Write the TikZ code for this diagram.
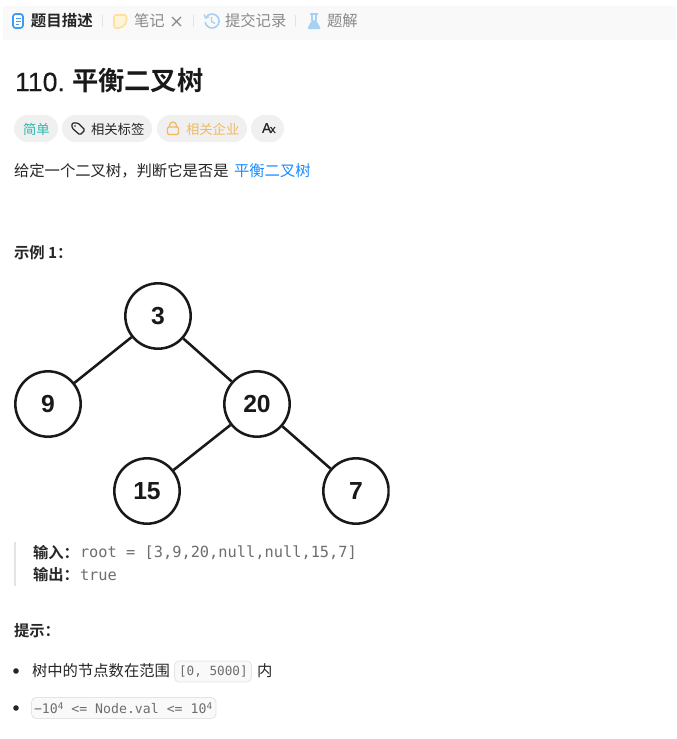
\documentclass[tikz,border=0pt]{standalone}
\usepackage{fontspec}
\setmainfont{Liberation Sans}
\setmonofont{DejaVu Sans Mono}
\newfontfamily\cjk{Noto Sans CJK SC}
\newfontfamily\cjkb{Noto Sans CJK SC Bold}
\newfontfamily\numfont[FakeBold=0.25]{Liberation Sans}
\definecolor{tabbg}{HTML}{F9F9F9}
\definecolor{pillbg}{HTML}{F0F0F0}
\definecolor{ink}{HTML}{262626}
\definecolor{grey}{HTML}{8A8A8A}
\definecolor{linkblue}{HTML}{1A8CFF}
\definecolor{teal}{HTML}{2DB8AD}
\definecolor{amber}{HTML}{F0B860}
\definecolor{iconblue}{HTML}{3E9BF5}
\definecolor{lightblue}{HTML}{A8D0F5}
\definecolor{noteyellow}{HTML}{FFDF9A}
\definecolor{notefill}{HTML}{FFF4D8}
\definecolor{sep}{HTML}{E4E4E4}
\definecolor{codegrey}{HTML}{6E6E6E}
\tikzset{x=0.75pt,y=-0.75pt,
 txt/.style={anchor=west,inner sep=0pt,outer sep=0pt,text=ink,font=\cjk\fontsize{11.5pt}{13pt}\selectfont},
 tab/.style={txt,text=grey,font=\cjk\fontsize{11.5pt}{13pt}\selectfont},
 tabon/.style={txt,font=\cjkb\fontsize{11.6pt}{13pt}\selectfont},
 pill/.style={fill=pillbg,rounded corners=10pt},
 pilltxt/.style={txt,font=\cjk\fontsize{10pt}{12pt}\selectfont},
 heading/.style={txt,font=\cjkb\fontsize{11.5pt}{13pt}\selectfont},
 code/.style={txt,text=codegrey,font=\ttfamily\fontsize{11.5pt}{13pt}\selectfont},
 chip/.style={draw=sep,fill=tabbg,rounded corners=3.5pt,line width=0.6pt},
 chiptxt/.style={txt,text=codegrey,font=\ttfamily\fontsize{9.5pt}{12pt}\selectfont},
 treenode/.style={circle,draw=black!90,line width=1.9pt,fill=white,minimum size=49pt,inner sep=0pt,font=\fontsize{18.5pt}{20pt}\selectfont\bfseries,text=black!90},
 edge/.style={line width=1.9pt,draw=black!90},
 sepline/.style={draw=sep,line width=0.7pt},
 dot/.style={circle,fill=ink,minimum size=4.2pt,inner sep=0pt}
}
\newcommand{\supfour}{\raisebox{3pt}{\fontsize{7pt}{8pt}\selectfont 4}}
\begin{document}
\begin{tikzpicture}
\useasboundingbox (0,0) rectangle (676,739);
\fill[white] (0,0) rectangle (676,739);
% tab bar
\fill[tabbg] (3,6) rectangle (676,40);
\draw[iconblue,line width=1.3pt,fill=white,rounded corners=2pt] (13,14) rectangle (23,28);
\draw[iconblue,line width=0.9pt] (15.5,18.5)--(20.5,18.5) (15.5,21.5)--(20.5,21.5) (15.5,24.5)--(18.5,24.5);
\node[tabon] (t1) at (31,21) {题目描述};
\draw[sepline] (102,15)--(102,27);
\draw[noteyellow,fill=notefill,line width=1.2pt,rounded corners=1.5pt] (114,15)--(126.5,15)--(126.5,23)--(121,28)--(114,28)--cycle;
\node[tab] (t2) at (134,21) {笔记};
\draw[grey,line width=0.9pt] (172,17)--(181,26) (181,17)--(172,26);
\draw[sepline] (193,15)--(193,27);
\draw[lightblue,line width=1.2pt] (206,17.5) arc[start angle=-150,end angle=170,radius=7];
\draw[lightblue,line width=1pt] (211.5,17)--(211.5,21.5)--(215,23.5);
\draw[lightblue,line width=1pt] (204,14.5)--(205.5,18)--(209,17);
\node[tab] (t3) at (225,21) {提交记录};
\draw[sepline] (295,15)--(295,27);
\fill[lightblue,rounded corners=1.5pt] (312,20)--(316,20)--(321,29)--(307,29)--cycle;
\draw[lightblue,line width=1pt] (310,14)--(318,14) (312,14)--(312,21) (316,14)--(316,21);
\node[tab] (t4) at (327,21) {题解};
% title
\node[txt,font=\numfont\fontsize{20pt}{22pt}\selectfont,text=black!90] (n110) at (15,82) {110.};
\node[txt,font=\cjkb\fontsize{19.7pt}{22pt}\selectfont,text=black!90] (title) at (72,81) {平衡二叉树};
% pills
\fill[pill] (14,115) rectangle (58,142);
\node[pilltxt,text=teal] (p1) at (23,129) {简单};
\fill[pill] (62,115) rectangle (152,142);
\draw[ink,line width=0.9pt,rounded corners=1pt,line join=round] (72,123)--(78,123)--(85,130)--(80,135)--(72,128)--cycle;
\fill[ink] (75,126) circle (0.9);
\node[pilltxt] (p2) at (91,129) {相关标签};
\fill[pill] (157,115) rectangle (247,142);
\draw[amber,line width=0.9pt,rounded corners=1pt] (167.5,127) rectangle (178.5,134.5);
\draw[amber,line width=0.9pt] (169.5,127) -- (169.5,125.5) arc[start angle=180,end angle=360,radius=3.5] -- (176.5,127);
\node[pilltxt,text=amber] (p3) at (186,129) {相关企业};
\fill[pill] (251,115) rectangle (284,142);
\node[txt,font=\numfont\fontsize{10.5pt}{12pt}\selectfont] (p4) at (262,128) {A};
\node[txt,font=\numfont\fontsize{8.5pt}{12pt}\selectfont] (p4b) at (270,130) {x};
% statement
\node[txt] (s1) at (14,171) {给定一个二叉树，判断它是否是};
\node[txt,text=linkblue] (s2) at (234,171) {平衡二叉树};
\node[heading] (ex) at (14,253) {示例 1：};
% tree
\begin{scope}
\clip (0,270) rectangle (389.5,530);
\node[treenode] (a) at (158,316) {3};
\node[treenode] (b) at (48,404) {9};
\node[treenode] (c) at (257,404) {20};
\node[treenode] (d) at (147,491) {15};
\node[treenode] (e) at (356,491) {7};
\draw[edge] (a)--(b);
\draw[edge] (a)--(c);
\draw[edge] (c)--(d);
\draw[edge] (c)--(e);
\end{scope}
% quote
\fill[sep] (14,542) rectangle (16,586);
\node[heading] (i1) at (33,553) {输入：};
\node[code] (i2) at (80,553) {root = [3,9,20,null,null,15,7]};
\node[heading] (o1) at (33,575) {输出：};
\node[code] (o2) at (80,575) {true};
\node[heading] (hint) at (14,631) {提示：};
% list
\node[dot] (d1) at (16,671) {};
\node[txt] (l1) at (32,671) {树中的节点数在范围};
\draw[chip] (174.5,661) rectangle (251.5,682);
\node[chiptxt] (l2) at (179,672) {[0, 5000]};
\node[txt] (l3) at (257,671) {内};
\node[dot] (d2) at (16,708) {};
\draw[chip] (31.5,697.5) rectangle (216,718.5);
\node[chiptxt,font=\ttfamily\fontsize{9.9pt}{12pt}\selectfont] (l4) at (34,708) {−10\supfour{} <= Node.val <= 10\supfour};
\end{tikzpicture}
\end{document}
